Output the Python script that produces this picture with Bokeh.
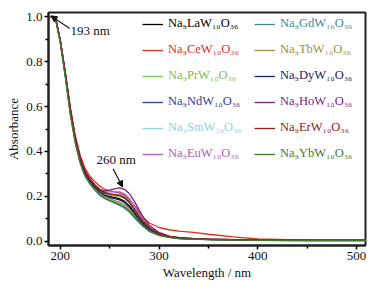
from bokeh.plotting import figure
from bokeh.models import (Range1d, FixedTicker, NumeralTickFormatter, Legend, LegendItem,
                          Label, Arrow, NormalHead)
from bokeh.embed import file_html
from bokeh.resources import INLINE

FONT = "'Liberation Serif', 'Times New Roman', serif"

wavelength = [190, 193, 196, 200, 205, 210, 215, 220, 225, 230, 235, 240, 245, 250, 255, 260,
              265, 270, 275, 280, 285, 290, 300, 310, 320, 335, 350, 375, 400, 450, 510]

names = ["Na₉LaW₁₀O₃₆", "Na₉CeW₁₀O₃₆", "Na₉PrW₁₀O₃₆", "Na₉NdW₁₀O₃₆", "Na₉SmW₁₀O₃₆", "Na₉EuW₁₀O₃₆",
         "Na₉GdW₁₀O₃₆", "Na₉TbW₁₀O₃₆", "Na₉DyW₁₀O₃₆", "Na₉HoW₁₀O₃₆", "Na₉ErW₁₀O₃₆", "Na₉YbW₁₀O₃₆"]

colors = ["#000000", "#e03020", "#80c050", "#3040a0", "#90d0e0", "#b060c0",
          "#408c90", "#a09040", "#202060", "#802080", "#902010", "#407a30"]

abs_La = [1.00, 1.00, 0.975, 0.89, 0.745, 0.585, 0.455, 0.365, 0.305, 0.27, 0.243, 0.222, 0.208, 0.2, 0.195, 0.19,
          0.178, 0.158, 0.13, 0.10, 0.075, 0.055, 0.032, 0.021, 0.015, 0.011, 0.009, 0.007, 0.006, 0.005, 0.005]
abs_Ce = [1.00, 1.00, 0.978, 0.895, 0.755, 0.60, 0.475, 0.385, 0.325, 0.29, 0.265, 0.245, 0.232, 0.225, 0.22, 0.215,
          0.205, 0.185, 0.16, 0.13, 0.103, 0.082, 0.062, 0.052, 0.046, 0.04, 0.032, 0.02, 0.011, 0.006, 0.005]
abs_Pr = [1.00, 1.00, 0.975, 0.89, 0.745, 0.585, 0.455, 0.365, 0.303, 0.268, 0.242, 0.222, 0.21, 0.205, 0.202, 0.2,
          0.19, 0.17, 0.14, 0.108, 0.08, 0.058, 0.033, 0.021, 0.015, 0.011, 0.009, 0.007, 0.006, 0.005, 0.005]
abs_Nd = [1.00, 1.00, 0.975, 0.89, 0.748, 0.59, 0.46, 0.37, 0.31, 0.275, 0.248, 0.228, 0.215, 0.21, 0.207, 0.205,
          0.195, 0.173, 0.142, 0.11, 0.082, 0.06, 0.034, 0.022, 0.016, 0.012, 0.009, 0.007, 0.006, 0.005, 0.005]
abs_Sm = [1.00, 1.00, 0.972, 0.885, 0.738, 0.575, 0.445, 0.355, 0.295, 0.26, 0.235, 0.213, 0.198, 0.188, 0.179, 0.17,
          0.158, 0.14, 0.113, 0.088, 0.066, 0.048, 0.028, 0.018, 0.013, 0.01, 0.008, 0.006, 0.005, 0.004, 0.004]
abs_Eu = [1.00, 1.00, 0.975, 0.89, 0.748, 0.59, 0.46, 0.372, 0.312, 0.278, 0.252, 0.232, 0.222, 0.22, 0.22, 0.22,
          0.212, 0.19, 0.158, 0.122, 0.09, 0.065, 0.036, 0.023, 0.016, 0.012, 0.01, 0.008, 0.007, 0.006, 0.006]
abs_Gd = [1.00, 1.00, 0.97, 0.882, 0.733, 0.568, 0.44, 0.35, 0.29, 0.255, 0.228, 0.205, 0.19, 0.18, 0.17, 0.16,
          0.148, 0.13, 0.105, 0.082, 0.062, 0.045, 0.027, 0.018, 0.013, 0.01, 0.008, 0.006, 0.005, 0.004, 0.004]
abs_Tb = [1.00, 1.00, 0.973, 0.886, 0.74, 0.578, 0.448, 0.358, 0.298, 0.263, 0.238, 0.216, 0.2, 0.19, 0.182, 0.175,
          0.163, 0.145, 0.118, 0.091, 0.068, 0.05, 0.029, 0.019, 0.014, 0.01, 0.008, 0.006, 0.005, 0.004, 0.004]
abs_Dy = [1.00, 1.00, 0.974, 0.888, 0.743, 0.582, 0.452, 0.362, 0.302, 0.267, 0.241, 0.22, 0.205, 0.196, 0.19, 0.185,
          0.173, 0.153, 0.125, 0.096, 0.072, 0.053, 0.031, 0.02, 0.014, 0.011, 0.009, 0.007, 0.006, 0.005, 0.005]
abs_Ho = [1.00, 1.00, 0.976, 0.892, 0.75, 0.592, 0.463, 0.374, 0.314, 0.278, 0.25, 0.23, 0.225, 0.228, 0.234, 0.238,
          0.232, 0.212, 0.178, 0.138, 0.1, 0.072, 0.04, 0.024, 0.017, 0.012, 0.01, 0.008, 0.006, 0.005, 0.005]
abs_Er = [1.00, 1.00, 0.976, 0.892, 0.75, 0.592, 0.462, 0.372, 0.312, 0.276, 0.25, 0.23, 0.218, 0.212, 0.208, 0.205,
          0.195, 0.175, 0.145, 0.112, 0.084, 0.061, 0.035, 0.023, 0.017, 0.013, 0.011, 0.008, 0.007, 0.006, 0.006]
abs_Yb = [1.00, 1.00, 0.97, 0.882, 0.733, 0.568, 0.44, 0.35, 0.29, 0.256, 0.23, 0.208, 0.193, 0.183, 0.174, 0.165,
          0.153, 0.135, 0.11, 0.085, 0.064, 0.046, 0.027, 0.018, 0.013, 0.01, 0.008, 0.006, 0.005, 0.004, 0.004]

series = [abs_La, abs_Ce, abs_Pr, abs_Nd, abs_Sm, abs_Eu, abs_Gd, abs_Tb, abs_Dy, abs_Ho, abs_Er, abs_Yb]

x_ticks = [200, 300, 400, 500]
x_minor = [250, 350, 450]
y_ticks = [0.0, 0.2, 0.4, 0.6, 0.8, 1.0]
y_minor = [0.1, 0.3, 0.5, 0.7, 0.9]

p = figure(frame_width=317, frame_height=233, output_backend="svg", toolbar_location=None,
           x_range=Range1d(188, 509), y_range=Range1d(-0.018, 1.018),
           min_border_left=48, min_border_right=4, min_border_top=12, min_border_bottom=0)
p.background_fill_color = "white"
p.border_fill_color = "white"
p.xgrid.visible = False
p.ygrid.visible = False
p.outline_line_color = "#222222"
p.outline_line_width = 2

for ax in (p.xaxis[0], p.yaxis[0]):
    ax.axis_line_width = 2
    ax.axis_line_color = "#222222"
    ax.major_tick_in = 0
    ax.major_tick_out = 4
    ax.minor_tick_in = 0
    ax.minor_tick_out = 3
    ax.major_tick_line_width = 1.5
    ax.minor_tick_line_width = 1.5
    ax.major_label_text_font = FONT
    ax.major_label_text_font_size = "13px"
    ax.major_label_text_color = "#111111"
    ax.axis_label_text_font = FONT
    ax.axis_label_text_font_size = "13px"
    ax.axis_label_text_font_style = "normal"
    ax.axis_label_text_color = "#111111"

p.xaxis.ticker = FixedTicker(ticks=x_ticks, minor_ticks=x_minor)
p.yaxis.ticker = FixedTicker(ticks=y_ticks, minor_ticks=y_minor)
p.yaxis.formatter = NumeralTickFormatter(format="0.0")
p.xaxis.axis_label = "Wavelength / nm"
p.yaxis.axis_label = "Absorbance"
p.xaxis.major_label_standoff = 2
p.yaxis.major_label_standoff = 2
p.xaxis.axis_label_standoff = 2
p.yaxis.axis_label_standoff = 2

renderers = []
for vals, c in zip(series, colors):
    r = p.line(wavelength, vals, line_color=c, line_width=1.3)
    renderers.append(r)

# legend: two columns, six rows, coloured labels
col_x = [94, 206]
row_y = [214, 188, 162, 136, 110, 84]
for i, (name, c, r) in enumerate(zip(names, colors, renderers)):
    col, row = divmod(i, 6)
    lg = Legend(items=[LegendItem(label=name, renderers=[r])],
                location=(col_x[col], row_y[row]),
                background_fill_alpha=0, border_line_alpha=0,
                padding=0, margin=0, spacing=0,
                glyph_width=21, glyph_height=14, label_height=14,
                label_standoff=5, label_text_font=FONT, label_text_font_size="12.5px",
                label_text_color=c)
    p.add_layout(lg)

# annotations
p.add_layout(Label(x=210.4, y=0.938, text="193 nm", text_font=FONT, text_font_size="13px",
                   text_baseline="middle", text_color="#111111"))
p.add_layout(Arrow(end=NormalHead(size=6, fill_color="#111111", line_color="#111111"),
                   x_start=209.4, y_start=0.947, x_end=190.5, y_end=1.003,
                   line_color="#111111", line_width=1.2))
p.add_layout(Label(x=236.5, y=0.364, text="260 nm", text_font=FONT, text_font_size="13px",
                   text_baseline="middle", text_color="#111111"))
p.add_layout(Arrow(end=NormalHead(size=6, fill_color="#111111", line_color="#111111"),
                   x_start=253.4, y_start=0.323, x_end=263.0, y_end=0.242,
                   line_color="#111111", line_width=1.2))

open("out.html", "w").write(file_html(p, INLINE))
